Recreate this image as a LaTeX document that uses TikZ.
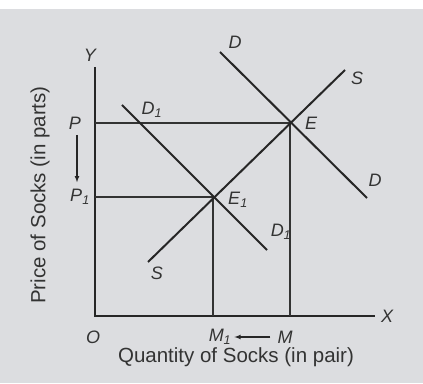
\documentclass[tikz,border=0pt]{standalone}
\usepackage{fontspec}
\setmainfont{Liberation Sans}
\definecolor{fondgris}{RGB}{220,221,224}
\begin{document}
\begin{tikzpicture}[x=1pt,y=1pt]
	% Styles
	\tikzstyle{axe}=[-,line width=1.7pt,black!85]
	\tikzstyle{courbe}=[-,line width=2pt,black!85]
	\tikzstyle{guide}=[-,line width=1.3pt,black!80]
	\tikzstyle{fleche}=[->,>={latex[scale=1.4]},line width=1.1pt,black!85]
	\tikzstyle{etiquette}=[font=\fontsize{18}{20}\selectfont\itshape,text=black!80,inner sep=1pt]
	\tikzstyle{titre}=[font=\fontsize{20.5}{22}\selectfont,text=black!80,inner sep=1pt]
	% Fond
	\fill[fondgris] (0,0) rectangle (423,383);
	\fill[white] (0,374) rectangle (423,383);
	% Points
	\coordinate (O) at (95,67);
	\coordinate (Yh) at (95,316);
	\coordinate (Xd) at (375,67);
	\coordinate (E) at (290,260);
	\coordinate (E1) at (213,186);
	\coordinate (P) at (95,260);
	\coordinate (P1) at (95,186);
	\coordinate (M) at (290,67);
	\coordinate (M1) at (213,67);
	\coordinate (Dh) at (220,331);
	\coordinate (Db) at (367,185);
	\coordinate (Sb) at (148,121);
	\coordinate (Sh) at (345,313);
	\coordinate (DUh) at (122,278);
	\coordinate (DUb) at (267,133);
	% Axes
	\draw[axe] (Yh)--(O)--(Xd);
	% Lignes de rappel
	\draw[guide] (P)--(E)--(M);
	\draw[guide] (P1)--(E1)--(M1);
	% Courbes
	\draw[courbe] (Dh)--(Db);
	\draw[courbe] (Sb)--(Sh);
	\draw[courbe] (DUh)--(DUb);
	% Etiquettes
	\node[etiquette] (lY) at (90,328) {Y};
	\node[etiquette] (lX) at (387,67) {X};
	\node[etiquette] (lO) at (93,46) {O};
	\node[etiquette] (lD) at (235,341) {D};
	\node[etiquette] (lDb) at (375,203) {D};
	\node[etiquette] (lS) at (357,305) {S};
	\node[etiquette] (lSb) at (157,110) {S};
	\node[etiquette] (lDU) at (152,273) {D\textsubscript{1}};
	\node[etiquette] (lDUb) at (281,151) {D\textsubscript{1}};
	\node[etiquette] (lE) at (311,260) {E};
	\node[etiquette] (lE1) at (238,183) {E\textsubscript{1}};
	\node[etiquette] (lP) at (75,260) {P};
	\node[etiquette] (lP1) at (80,186) {P\textsubscript{1}};
	\node[etiquette] (lM) at (285,46) {M};
	\node[etiquette] (lM1) at (220,46) {M\textsubscript{1}};
	% Fleches
	\coordinate (fP) at (77,248);
	\draw[fleche,shorten >=6pt] (fP) -- (lP1.north -| fP);
	\draw[fleche,shorten <=6pt,shorten >=2pt] (lM.west)--(lM1.east);
	% Titres
	\node[titre,rotate=90] (tPrix) at (40,188) {Price of Socks (in parts)};
	\node[titre] (tQte) at (236,26) {Quantity of Socks (in pair)};
\end{tikzpicture}
\end{document}
